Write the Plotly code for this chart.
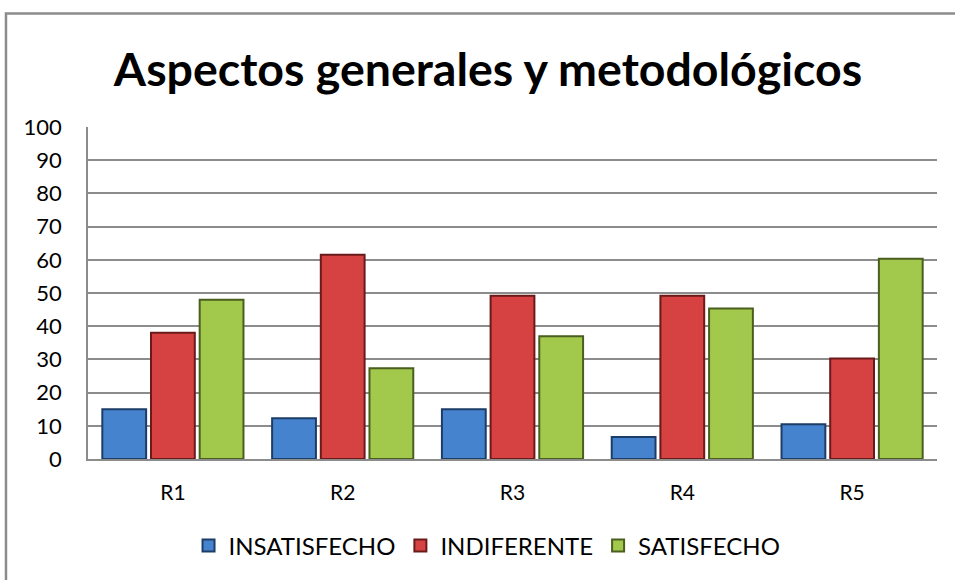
import plotly.graph_objects as go

# Survey results per item (percent)
categories = ["R1", "R2", "R3", "R4", "R5"]
insatisfecho = [15, 12.3, 15, 6.6, 10.5]
indiferente = [38, 61.5, 49.2, 49.2, 30.3]
satisfecho = [48, 27.3, 37, 45.3, 60.3]

series = [
    ("INSATISFECHO", insatisfecho, "#4683CF", "#1D3C66"),
    ("INDIFERENTE", indiferente, "#D64242", "#6B1A1A"),
    ("SATISFECHO", satisfecho, "#A2C94C", "#4A5E1F"),
]

fig = go.Figure()
for name, vals, fill, edge in series:
    fig.add_trace(go.Bar(
        x=categories, y=vals, name=name,
        marker=dict(color=fill, line=dict(color=edge, width=2)),
    ))

fig.update_layout(
    width=955, height=580,
    margin=dict(l=88, r=18, t=127, b=121),
    paper_bgcolor="white", plot_bgcolor="white",
    barmode="group", bargap=0.14, bargroupgap=0.1,
    font=dict(family="Lato", size=20, color="black"),
    title=dict(
        text="<b>Aspectos generales y metodológicos</b>",
        x=0.511, xanchor="center", y=0.879, yanchor="middle",
        font=dict(family="Lato", size=46.5, color="black"),
    ),
    showlegend=True,
    legend=dict(
        orientation="h", x=0.47, xanchor="center", y=-0.262, yanchor="middle",
        font=dict(size=24), itemwidth=30, traceorder="normal",
    ),
    # chart frame: only its left and top edges fall inside the picture
    shapes=[dict(
        type="rect", xref="paper", yref="paper",
        x0=-0.0966, x1=1.3, y0=-0.6, y1=1.342,
        line=dict(color="#8C8C8C", width=2.5), layer="below",
    )],
)
fig.update_yaxes(
    range=[0, 100], dtick=10, showgrid=True, gridcolor="#8C8C8C", gridwidth=1.5,
    showline=True, linecolor="#8C8C8C", linewidth=1.5,
    ticks="", ticklabelstandoff=20,
    tickfont=dict(size=22), zeroline=False,
)
fig.update_xaxes(
    showline=True, linecolor="#8C8C8C", linewidth=1.5, mirror=False,
    ticks="", tickfont=dict(size=21), ticklabelstandoff=14,
)

# drop the default page margin and scrollbars so the figure fills the window
fig.write_html(
    "out.html",
    config={"displayModeBar": False},
    post_script="document.body.style.margin='0';"
                "document.documentElement.style.overflow='hidden';",
)
